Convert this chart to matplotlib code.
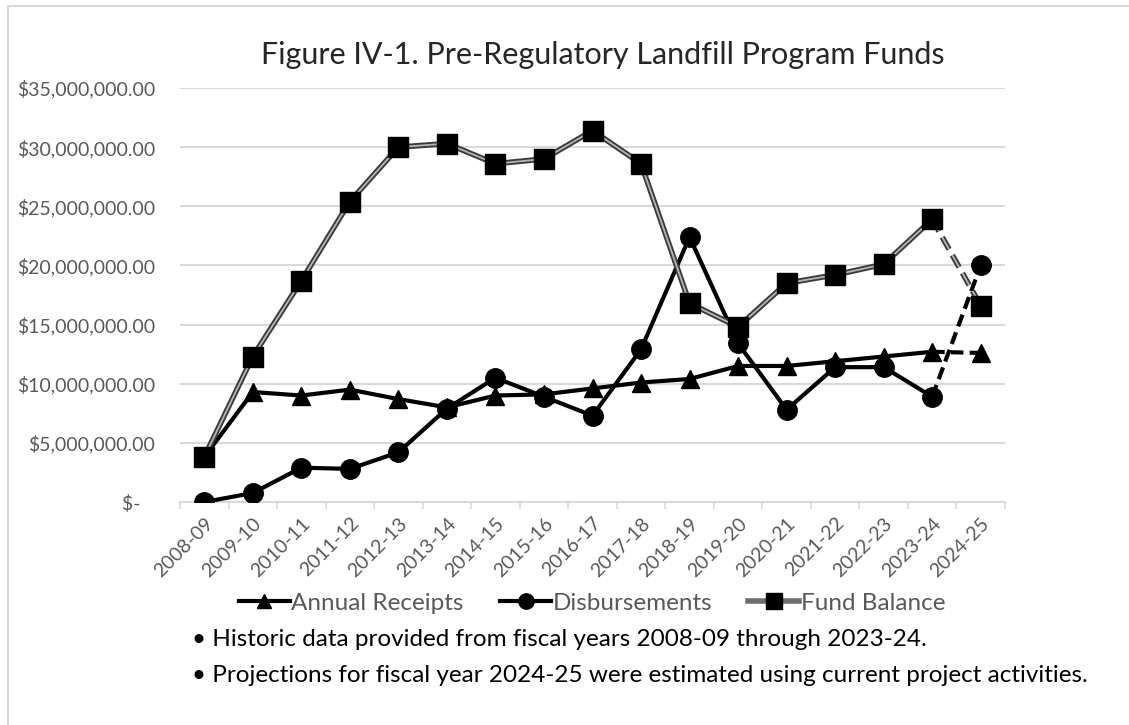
import numpy as np
import matplotlib.pyplot as plt
from matplotlib.lines import Line2D

plt.rcParams['font.family'] = ['Lato', 'DejaVu Sans']

years = ["2008-09", "2009-10", "2010-11", "2011-12", "2012-13", "2013-14", "2014-15",
         "2015-16", "2016-17", "2017-18", "2018-19", "2019-20", "2020-21", "2021-22",
         "2022-23", "2023-24", "2024-25"]
receipts = [3.8, 9.3, 9.0, 9.5, 8.7, 8.0, 9.0, 9.1, 9.6, 10.1, 10.4, 11.5, 11.5, 11.9,
            12.3, 12.7, 12.6]
disbursements = [0.0, 0.76, 2.9, 2.8, 4.2, 7.9, 10.5, 8.9, 7.3, 12.9, 22.4, 13.4, 7.8,
                 11.4, 11.4, 8.9, 20.0]
balance = [3.8, 12.3, 18.7, 25.4, 30.0, 30.3, 28.6, 29.0, 31.4, 28.6, 16.8, 14.8, 18.5,
           19.2, 20.1, 23.9, 16.6]
yticks = [0, 5, 10, 15, 20, 25, 30, 35]
ylabels = ["$-   "] + ["${:,.2f}".format(v * 1e6) for v in yticks[1:]]

gray_txt = "#595959"
x = np.arange(len(years))
h = len(years) - 1  # last historic index is h-1, projection is h

fig = plt.figure(figsize=(11.29, 7.25), dpi=100)
# chart border
fig.add_artist(plt.Rectangle((8 / 1129, -0.1), 1.2, 1 - 6 / 725 + 0.1, transform=fig.transFigure,
                             fill=False, edgecolor="#d9d9d9", lw=1.5))
ax = fig.add_axes([180 / 1129, 1 - 502 / 725, 825 / 1129, 414 / 725])

# Annual receipts
ax.plot(x[:h], receipts[:h], color="black", lw=3, marker="^", ms=13, zorder=3)
ax.plot(x[h - 1:], receipts[h - 1:], color="black", lw=3, ls=(0, (3, 1.5)), zorder=3)
ax.plot(x[h:], receipts[h:], color="black", ls="none", marker="^", ms=13, zorder=3)
# Disbursements
ax.plot(x[:h], disbursements[:h], color="black", lw=3, marker="o", ms=14, zorder=4)
ax.plot(x[h - 1:], disbursements[h - 1:], color="black", lw=3, ls=(0, (3, 1.5)), zorder=4)
ax.plot(x[h:], disbursements[h:], color="black", ls="none", marker="o", ms=14, zorder=4)
# Fund balance (double line)
ax.plot(x[:h], balance[:h], color="#3a3a3a", lw=4, zorder=5)
ax.plot(x[:h], balance[:h], color="#b5b5b5", lw=1.3, zorder=5)
ax.plot(x[h - 1:], balance[h - 1:], color="#3a3a3a", lw=4, ls=(0, (2.5, 1.2)), zorder=5)
ax.plot(x[h - 1:], balance[h - 1:], color="#b5b5b5", lw=1.3, ls=(0, (7.7, 3.7)), zorder=5)
ax.plot(x, balance, color="black", ls="none", marker="s", ms=15, zorder=6)

ax.set_xlim(-0.5, len(years) - 0.5)
ax.set_ylim(0, 35)
ax.set_yticks(yticks)
ax.set_yticklabels(ylabels, color=gray_txt, fontsize=14)
ax.set_xticks(x)
ax.set_xticklabels(years, rotation=45, ha="right", rotation_mode="anchor",
                   color=gray_txt, fontsize=14)
ax.set_xticks(np.arange(-0.5, len(years), 1), minor=True)
ax.tick_params(axis="x", which="major", length=0, pad=9)
ax.tick_params(axis="x", which="minor", length=5, color="#d9d9d9", width=1.2)
ax.tick_params(axis="y", length=0, pad=18)
ax.grid(axis="y", color="#d9d9d9", lw=1.5, zorder=0)
for s in ["top", "right", "left"]:
    ax.spines[s].set_visible(False)
ax.spines["bottom"].set_color("#d9d9d9")
ax.spines["bottom"].set_linewidth(1.5)

fig.text(603 / 1129, 1 - 55 / 725, "Figure IV-1. Pre-Regulatory Landfill Program Funds",
         ha="center", va="center", fontsize=22, color="#262626")

handles = [
    Line2D([], [], color="black", lw=3, marker="^", ms=10),
    Line2D([], [], color="black", lw=3, marker="o", ms=11),
    Line2D([], [], color="#6e6e6e", lw=4, marker="s", ms=12, mfc="black", mec="black"),
]
fig.legend(handles, ["Annual Receipts", "Disbursements", "Fund Balance"],
           loc="center", bbox_to_anchor=(592 / 1129, 1 - 603 / 725), ncol=3,
           frameon=False, fontsize=17.5, labelcolor=gray_txt, handlelength=2.1,
           handletextpad=0.05, columnspacing=1.5)

fig.text(192 / 1129, 1 - 640 / 725,
         "\u2022 Historic data provided from fiscal years 2008-09 through 2023-24.",
         ha="left", va="center", fontsize=17.5, color="black")
fig.text(192 / 1129, 1 - 676 / 725,
         "\u2022 Projections for fiscal year 2024-25 were estimated using current project activities.",
         ha="left", va="center", fontsize=17.5, color="black")

fig.savefig("out.png", dpi=100)
